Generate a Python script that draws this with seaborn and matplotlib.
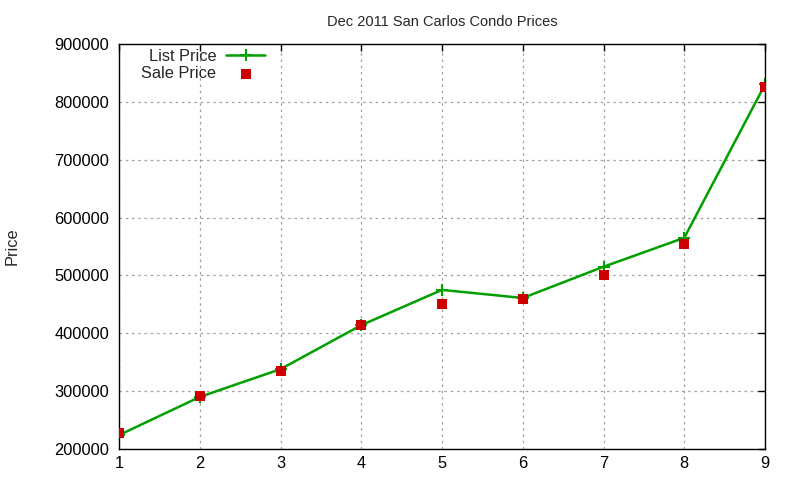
import matplotlib
matplotlib.use("Agg")
import matplotlib.pyplot as plt
import seaborn as sns
import pandas as pd

homes = [1, 2, 3, 4, 5, 6, 7, 8, 9]
list_price = [224000, 290000, 338000, 414000, 475000, 461000, 515000, 565000, 830000]
sale_price = [228000, 292000, 335000, 415000, 450000, 460000, 500000, 555000, 825000]

df = pd.DataFrame({"home": homes, "list": list_price, "sale": sale_price})

sns.set_style("white")
plt.rcParams["font.family"] = ["Liberation Sans", "DejaVu Sans"]

fig = plt.figure(figsize=(8, 4.8), dpi=100)
ax = fig.add_axes([119/800, 1-449/480, (765-119)/800, (449-44)/480])

sns.lineplot(data=df, x="home", y="list", ax=ax, color="#00a000", linewidth=1.8,
             marker="+", markersize=9, markeredgewidth=1.5, markeredgecolor="#00a000",
             label="List Price")
sns.scatterplot(data=df, x="home", y="sale", ax=ax, color="#cc0000", marker="s",
                s=45, linewidth=0, label="Sale Price", zorder=5)

ax.set_xlim(1, 9)
ax.set_ylim(200000, 900000)
ax.set_xticks(homes)
ax.set_yticks(range(200000, 900001, 100000))
ax.ticklabel_format(style="plain", axis="y")
ax.grid(True, color="#a0a0a0", linestyle=(0, (2, 3)), linewidth=0.9)
for s in ax.spines.values():
    s.set_color("black")
    s.set_linewidth(1.0)
ax.tick_params(direction="in", length=5, width=1, top=True, right=True,
               labelsize=11.8, colors="black")
ax.tick_params(axis="y", pad=7)
ax.tick_params(axis="x", pad=5)
ax.set_xlabel("")
ax.set_ylabel("")
fig.text(12/800, 1-246/480, "Price", rotation=90, ha="center", va="center",
         fontsize=11.8)
ax.set_title("Dec 2011 San Carlos Condo Prices", fontsize=10.5, pad=13)

leg = ax.legend(loc="upper left", bbox_to_anchor=(14/646, 1.0 + 3/405), frameon=False,
                markerfirst=False, fontsize=11.8, handlelength=2.4,
                borderaxespad=0.1, labelspacing=0.12, handletextpad=0.6)
for t in leg.get_texts():
    t.set_ha("right")

fig.savefig("out.png", dpi=100)
